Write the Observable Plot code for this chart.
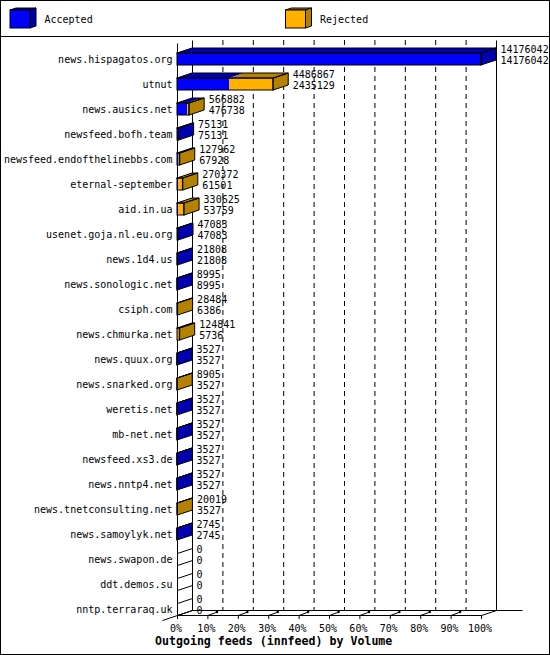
<!DOCTYPE html>
<html>
<head>
<meta charset="utf-8">
<script src="https://cdn.jsdelivr.net/npm/d3@7"></script>
<script src="https://cdn.jsdelivr.net/npm/@observablehq/plot@0.6"></script>
<style>
  body { margin: 0; background: #fff; }
  #outer { position: relative; width: 548px; height: 653px; border: 1px solid #000; background: #fff; overflow: hidden; }
  #legend { height: 35px; border-bottom: 1px solid #000; position: relative; }
  #legend svg { position: absolute; left: 0; top: 0; }
  #chart svg { display: block; }
  #title { position: absolute; left: 154px; top: 633px; line-height: 14px; font: bold 11.6px "DejaVu Sans Mono", monospace; color: #000; white-space: pre; }
</style>
</head>
<body>
<div id="outer">
  <div id="legend"></div>
  <div id="chart"></div>
  <div id="title"></div>
</div>
<script>
// ---- data ----
const hosts = ["news.hispagatos.org","utnut","news.ausics.net","newsfeed.bofh.team","newsfeed.endofthelinebbs.com","eternal-september","aid.in.ua","usenet.goja.nl.eu.org","news.1d4.us","news.sonologic.net","csiph.com","news.chmurka.net","news.quux.org","news.snarked.org","weretis.net","mb-net.net","newsfeed.xs3.de","news.nntp4.net","news.tnetconsulting.net","news.samoylyk.net","news.swapon.de","ddt.demos.su","nntp.terraraq.uk"];
const offered = [14176042,4486867,566882,75131,127962,270372,330625,47083,21808,8995,28484,124841,3527,8905,3527,3527,3527,3527,20019,2745,0,0,0];
const accepted = [14176042,2435129,476738,75131,67928,61501,53759,47083,21808,8995,6386,5736,3527,3527,3527,3527,3527,3527,3527,2745,0,0,0];
const pctTicks = [0,10,20,30,40,50,60,70,80,90,100];
const legendLabels = ["Accepted","Rejected"];
const titleText = "Outgoing feeds (innfeed) by Volume";

// ---- styles / geometry ----
const BLUE = "#0000ff", DBLUE = "#0000b0", ORANGE = "#ffb000", DORANGE = "#b48200";
const FONT = "DejaVu Sans Mono";
const W = 548, H = 616;
const X0 = 176, X1 = 480, Y0 = 22, ROW = 25;
const DXpx = 15, DYpx = 5, HALF = 6;
const MAX = d3.max(offered);
const N = hosts.length;
const dxD = DXpx * MAX / (X1 - X0);
const dyD = DYpx / ROW;
const hD = HALF / ROW;
const py = px => (px - Y0) / ROW;
const pxW = px => px * MAX / (X1 - X0);

const rows = hosts.map((h, i) => ({host: h, i, tot: offered[i], acc: accepted[i]}));
const segs = [];
rows.forEach(r => {
  if (r.tot <= 0) return;
  if (r.acc > 0) segs.push({i: r.i, a: 0, b: Math.min(r.acc, r.tot), front: BLUE, dark: DBLUE});
  if (r.tot > r.acc) segs.push({i: r.i, a: r.acc, b: r.tot, front: ORANGE, dark: DORANGE});
});
const nz = rows.filter(r => r.tot > 0);
const zr = rows.filter(r => r.tot <= 0);

const topPts = segs.flatMap((s, k) => [
  {k, y: s.i - hD, x1: s.a, x2: s.b, fill: s.dark},
  {k, y: s.i - hD - dyD, x1: s.a + dxD, x2: s.b + dxD, fill: s.dark}
]);
const topOutline = nz.flatMap(r => [
  {k: r.i, y: r.i - hD, x1: 0, x2: r.tot},
  {k: r.i, y: r.i - hD - dyD, x1: dxD, x2: r.tot + dxD}
]);
const sidePts = nz.flatMap(r => {
  const fill = r.tot > r.acc ? DORANGE : DBLUE;
  return [
    {k: r.i, x: r.tot, y1: r.i - hD, y2: r.i + hD, fill},
    {k: r.i, x: r.tot + dxD, y1: r.i - hD - dyD, y2: r.i + hD - dyD, fill}
  ];
});

const yF = py(578), yB = yF - dyD, yTopBack = py(3), yTopFront = py(6);
const frameLinks = [
  {x1: 0, y1: yTopFront, x2: 0, y2: yF},               // front left axis
  {x1: dxD, y1: yTopBack, x2: dxD, y2: yB},            // back left wall
  {x1: MAX + dxD, y1: yTopBack, x2: MAX + dxD, y2: yB},// back right wall
  {x1: 0, y1: yF, x2: MAX, y2: yF},                    // front baseline
  {x1: dxD, y1: yB, x2: MAX + dxD + pxW(26), y2: yB},  // back baseline
  {x1: -dxD, y1: yF + dyD, x2: dxD, y2: yB},           // left floor diagonal
  {x1: MAX, y1: yF, x2: MAX + dxD, y2: yB}             // right floor diagonal
];
const zeroLinks = zr.flatMap(r => [
  {x1: 0, y1: r.i - hD, x2: dxD, y2: r.i - hD - dyD},
  {x1: 0, y1: r.i + hD, x2: dxD, y2: r.i + hD - dyD}
]);
const tx = p => p * MAX / 100;
const innerTicks = pctTicks.slice(1, -1);

const chart = Plot.plot({
  width: W, height: H, margin: 0,
  x: {domain: [0, MAX], range: [X0, X1], axis: null},
  y: {domain: [0, N - 1], range: [Y0, Y0 + ROW * (N - 1)], axis: null},
  color: {type: "identity"},
  style: {fontFamily: FONT, fontSize: "10px", background: "#fff", overflow: "visible", color: "#000"},
  marks: [
    Plot.ruleX(innerTicks, {x: tx, y1: yTopBack, y2: yB, dx: DXpx, stroke: "#000", strokeDasharray: "5,4"}),
    Plot.link(frameLinks, {x1: "x1", y1: "y1", x2: "x2", y2: "y2", stroke: "#000"}),
    Plot.link(zeroLinks, {x1: "x1", y1: "y1", x2: "x2", y2: "y2", stroke: "#000"}),
    // bar fills
    Plot.areaX(topPts, {y: "y", x1: "x1", x2: "x2", z: "k", fill: "fill"}),
    Plot.areaY(sidePts, {x: "x", y1: "y1", y2: "y2", z: "k", fill: "fill"}),
    Plot.rect(segs, {x1: "a", x2: "b", y1: d => d.i - hD, y2: d => d.i + hD, fill: "front"}),
    // bar outlines
    Plot.areaX(topOutline, {y: "y", x1: "x1", x2: "x2", z: "k", fill: "none", stroke: "#000"}),
    Plot.areaY(sidePts, {x: "x", y1: "y1", y2: "y2", z: "k", fill: "none", stroke: "#000"}),
    Plot.rect(nz, {x1: 0, x2: "tot", y1: d => d.i - hD, y2: d => d.i + hD, fill: "none", stroke: "#000"}),
    // ticks
    Plot.ruleX(pctTicks, {x: tx, y1: yF, y2: py(582), stroke: "#000"}),
    Plot.link(innerTicks, {x1: tx, y1: yF, x2: p => tx(p) + pxW(8), y2: py(575), stroke: "#000"}),
    Plot.dot(innerTicks, {x: p => tx(p) + pxW(9), y: py(574.5), r: 1.3, fill: "#000"}),
    Plot.text(pctTicks, {x: tx, y: py(591), text: p => p + "%", dx: -1.5, fill: "#000"}),
    // labels
    Plot.text(rows, {x: 0, y: "i", text: "host", textAnchor: "end", dx: -5, fill: "#000"}),
    Plot.text(rows, {x: "tot", y: "i", text: d => String(d.tot), textAnchor: "start", dx: DXpx + 4, dy: -9.5, fill: "#000"}),
    Plot.text(rows, {x: "tot", y: "i", text: d => String(d.acc), textAnchor: "start", dx: DXpx + 4, dy: 1.5, fill: "#000"})
  ]
});
document.getElementById("chart").appendChild(chart);

// ---- legend ----
const legendColors = [[BLUE, DBLUE], [ORANGE, DORANGE]];
const legendX = [9, 284.5];
let lg = `<svg width="548" height="35" xmlns="http://www.w3.org/2000/svg" font-family="${FONT}" font-size="10">`;
legendLabels.forEach((lab, k) => {
  const x = legendX[k], y = 9, w = 20, h = 18, d = 6, e = 2;
  const [c, dc] = legendColors[k];
  lg += `<polygon points="${x},${y} ${x+d},${y-e} ${x+w+d},${y-e} ${x+w},${y}" fill="${dc}" stroke="#000"/>`;
  lg += `<polygon points="${x+w},${y} ${x+w+d},${y-e} ${x+w+d},${y+h-e} ${x+w},${y+h}" fill="${dc}" stroke="#000"/>`;
  lg += `<rect x="${x}" y="${y}" width="${w}" height="${h}" fill="${c}" stroke="#000"/>`;
  lg += `<text x="${x + 34.5}" y="${y + 13}" fill="#000">${lab}</text>`;
});
lg += `</svg>`;
document.getElementById("legend").innerHTML = lg;
document.getElementById("title").textContent = titleText;
</script>
</body>
</html>
